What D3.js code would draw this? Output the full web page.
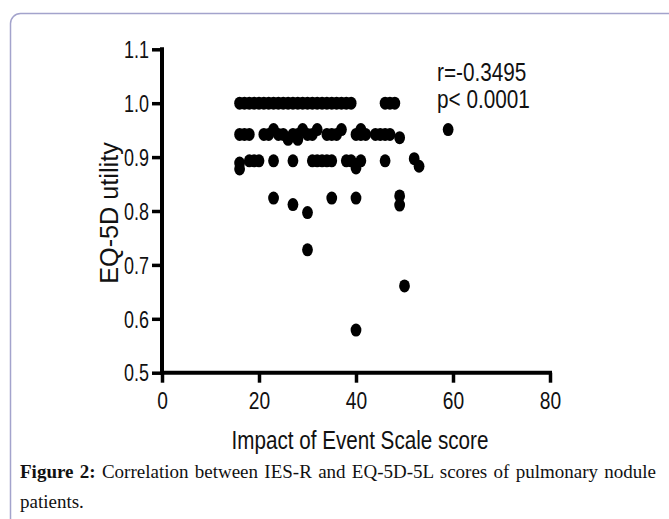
<!DOCTYPE html>
<html>
<head>
<meta charset="utf-8">
<script src="https://cdn.jsdelivr.net/npm/d3@7"></script>
<style>
    body { margin: 0; background: white; }
    #wrap { position: relative; width: 669px; height: 519px; overflow: hidden; }
    .caption {
        position: absolute;
        left: 20px;
        width: 636px;
        font-family: "Liberation Serif", "Times New Roman", serif;
        font-size: 19px;
        color: #111;
    }
    .caption.first { text-align: justify; text-align-last: justify; }
</style>
</head>
<body>
<div id="wrap">
    <svg id="chart"></svg>
    <div class="caption first" style="top:461px"><b>Figure 2:</b> Correlation between IES-R and EQ-5D-5L scores of pulmonary nodule</div>
    <div class="caption" style="top:491px">patients.</div>
</div>
<script>
// IES-R score (x) and EQ-5D utility (y), one entry per patient
const iesScores = [
    // utility 1.0
    16, 17, 18, 19, 20, 21, 22, 23, 24, 25, 26, 27, 28, 29, 30, 31, 32, 33, 34, 35, 36, 37, 38, 39, 46, 47, 48,
    // utility ~0.95
    23, 29, 32, 37, 41, 59,
    // utility ~0.94
    16, 17, 18, 21, 22, 24, 25, 27, 28, 30, 31, 34, 35, 36, 40, 41, 42, 44, 45, 46, 47,
    // utility ~0.93
    26, 28, 49,
    // utility ~0.89
    16, 18, 19, 20, 23, 27, 31, 32, 33, 34, 35, 38, 39, 41, 46, 52,
    // utility ~0.88
    16, 40, 53,
    // lower values
    23, 27, 30, 35, 40, 49, 49, 30, 50, 40
];
const eq5dUtility = [
    1, 1, 1, 1, 1, 1, 1, 1, 1, 1, 1, 1, 1, 1, 1, 1, 1, 1, 1, 1, 1, 1, 1, 1, 1, 1, 1,
    0.951, 0.951, 0.951, 0.951, 0.951, 0.951,
    0.942, 0.942, 0.942, 0.942, 0.942, 0.942, 0.942, 0.942, 0.942, 0.942, 0.942, 0.942, 0.942, 0.942, 0.942, 0.942, 0.942, 0.942, 0.942, 0.942, 0.942,
    0.933, 0.933, 0.936,
    0.889, 0.893, 0.893, 0.893, 0.893, 0.893, 0.893, 0.893, 0.893, 0.893, 0.893, 0.893, 0.893, 0.893, 0.893, 0.897,
    0.878, 0.880, 0.883,
    0.824, 0.812, 0.797, 0.824, 0.824, 0.828, 0.811, 0.728, 0.661, 0.579
];
const xTicks = [0, 20, 40, 60, 80];
const yTicks = [0.5, 0.6, 0.7, 0.8, 0.9, 1.0, 1.1];
const statLines = ["r=-0.3495", "p< 0.0001"];

const width = 669;
const height = 519;
const font = "'Liberation Sans', Arial, Helvetica, sans-serif";

// the original uses a condensed Helvetica, so squeeze the glyphs horizontally
function squeeze(sel, k) {
    sel.each(function () {
        const w = this.getComputedTextLength();
        d3.select(this)
            .attr("textLength", w * k)
            .attr("lengthAdjust", "spacingAndGlyphs");
    });
}

const svg = d3.select("#chart")
    .attr("width", width)
    .attr("height", height);

// figure frame
svg.append("rect")
    .attr("x", 10.5)
    .attr("y", 13.5)
    .attr("width", 720)
    .attr("height", 600)
    .attr("rx", 10)
    .attr("fill", "none")
    .attr("stroke", "#a3a3cc")
    .attr("stroke-width", 1.5);

const x = d3.scaleLinear().domain([0, 80]).range([162, 550]);
const y = d3.scaleLinear().domain([0.5, 1.1]).range([372.7, 49.3]);

const xAxis = svg.append("g")
    .attr("transform", `translate(0, ${y(0.5)})`)
    .call(d3.axisBottom(x).tickValues(xTicks).tickSize(10).tickPadding(9).tickFormat(d3.format("d")));

const yAxis = svg.append("g")
    .attr("transform", `translate(${x(0)}, 0)`)
    .call(d3.axisLeft(y).tickValues(yTicks).tickSize(10).tickPadding(3).tickFormat(d3.format(".1f")));

[xAxis, yAxis].forEach(g => {
    g.select(".domain")
        .attr("stroke", "black")
        .attr("stroke-width", 4)
        .attr("stroke-linecap", "square");
    g.selectAll(".tick line")
        .attr("stroke", "black")
        .attr("stroke-width", 3.5);
    g.selectAll(".tick text")
        .attr("fill", "#111")
        .style("font-family", font);
});
xAxis.select(".domain").attr("d", `M${x(0)},0H${x(80)}`);
yAxis.select(".domain").attr("d", `M0,${y(0.5)}V${y(1.1)}`);
xAxis.selectAll(".tick text").style("font-size", "24px");
yAxis.selectAll(".tick text").style("font-size", "23px").attr("dy", "0.36em");
squeeze(xAxis.selectAll(".tick text"), 0.8);
squeeze(yAxis.selectAll(".tick text"), 0.78);

// axis titles
const xTitle = svg.append("text")
    .attr("x", 360)
    .attr("y", 449)
    .attr("text-anchor", "middle")
    .style("font-family", font)
    .style("font-size", "25px")
    .attr("fill", "#111")
    .text("Impact of Event Scale score");
squeeze(xTitle, 0.825);

const yTitle = svg.append("text")
    .attr("transform", `translate(118, ${y(0.8) + 2}) rotate(-90)`)
    .attr("text-anchor", "middle")
    .style("font-family", font)
    .style("font-size", "26px")
    .attr("fill", "#111")
    .text("EQ-5D utility");
squeeze(yTitle, 0.97);

// points
const points = iesScores.map((s, i) => ({ score: s, utility: eq5dUtility[i] }));

svg.append("g")
    .selectAll("ellipse")
    .data(points)
    .enter()
    .append("ellipse")
    .attr("cx", d => x(d.score))
    .attr("cy", d => y(d.utility))
    .attr("rx", 5.4)
    .attr("ry", 6.5)
    .attr("fill", "black");

// correlation note
const stats = svg.append("g")
    .selectAll("text")
    .data(statLines)
    .enter()
    .append("text")
    .attr("x", 437)
    .attr("y", (d, i) => 81 + i * 27)
    .style("font-family", font)
    .style("font-size", "25px")
    .attr("fill", "#111")
    .text(d => d);
squeeze(stats, 0.83);
</script>
</body>
</html>
